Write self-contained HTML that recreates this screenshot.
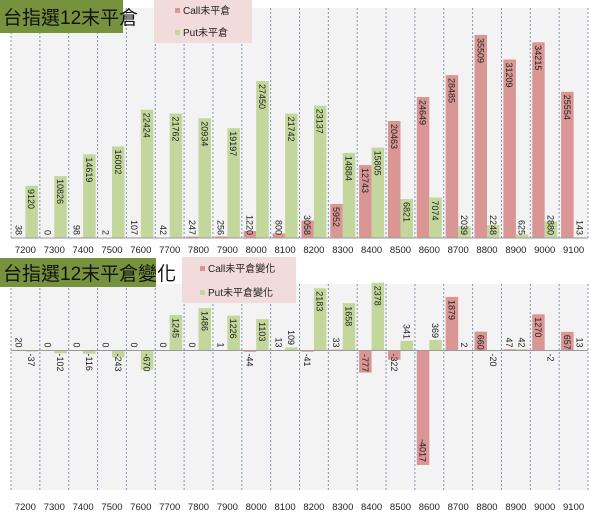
<!DOCTYPE html>
<html><head><meta charset="utf-8"><style>
html,body{margin:0;padding:0;background:#fff;}
svg{display:block;font-family:"Liberation Sans","Noto Sans CJK TC",sans-serif;}
.l{font-size:9px;fill:#222;}
.ax{font-size:9.5px;fill:#222;text-anchor:middle;}
</style></head><body>
<svg width="600" height="516" viewBox="0 0 600 516" xmlns="http://www.w3.org/2000/svg">
<rect x="0" y="0" width="600" height="516" fill="#fff"/>
<rect x="11" y="8" width="577" height="230" fill="#f3f3f3"/>
<rect x="11" y="284" width="577" height="206" fill="#f3f3f3"/>
<path d="M11 8V238M39.85 8V238M68.7 8V238M97.55 8V238M126.4 8V238M155.25 8V238M184.1 8V238M212.95 8V238M241.8 8V238M270.65 8V238M299.5 8V238M328.35 8V238M357.2 8V238M386.05 8V238M414.9 8V238M443.75 8V238M472.6 8V238M501.45 8V238M530.3 8V238M559.15 8V238M588 8V238
M11 284V490M39.85 284V490M68.7 284V490M97.55 284V490M126.4 284V490M155.25 284V490M184.1 284V490M212.95 284V490M241.8 284V490M270.65 284V490M299.5 284V490M328.35 284V490M357.2 284V490M386.05 284V490M414.9 284V490M443.75 284V490M472.6 284V490M501.45 284V490M530.3 284V490M559.15 284V490M588 284V490" stroke="#8094b0" stroke-width="1" stroke-dasharray="2,2" fill="none"/>

<!-- Chart 1 bars -->
<g fill="#da9694">
<rect x="12.9" y="237.8" width="12.5" height="0.2"/>
<rect x="70.6" y="237.4" width="12.5" height="0.6"/>
<rect x="128.3" y="237.4" width="12.5" height="0.6"/>
<rect x="157.2" y="237.8" width="12.5" height="0.2"/>
<rect x="186" y="236.6" width="12.5" height="1.4"/>
<rect x="214.9" y="236.5" width="12.5" height="1.5"/>
<rect x="243.7" y="231" width="12.5" height="7"/>
<rect x="272.6" y="233.4" width="12.5" height="4.6"/>
<rect x="301.4" y="220.5" width="12.5" height="17.5"/>
<rect x="330.3" y="204" width="12.5" height="34"/>
<rect x="359.1" y="165.1" width="12.5" height="72.9"/>
<rect x="388" y="121" width="12.5" height="117"/>
<rect x="416.8" y="97" width="12.5" height="141"/>
<rect x="445.7" y="75.1" width="12.5" height="162.9"/>
<rect x="474.5" y="34.9" width="12.5" height="203.1"/>
<rect x="503.4" y="59.5" width="12.5" height="178.5"/>
<rect x="532.2" y="42.3" width="12.5" height="195.7"/>
<rect x="561.1" y="91.8" width="12.5" height="146.2"/>
</g>
<g fill="#c3d69b">
<rect x="25.4" y="185.8" width="12.5" height="52.2"/>
<rect x="54.3" y="176.1" width="12.5" height="61.9"/>
<rect x="83.1" y="154.4" width="12.5" height="83.6"/>
<rect x="112" y="146.5" width="12.5" height="91.5"/>
<rect x="140.8" y="109.7" width="12.5" height="128.3"/>
<rect x="169.7" y="113.5" width="12.5" height="124.5"/>
<rect x="198.5" y="118.3" width="12.5" height="119.7"/>
<rect x="227.4" y="128.2" width="12.5" height="109.8"/>
<rect x="256.2" y="81" width="12.5" height="157"/>
<rect x="285.1" y="113.6" width="12.5" height="124.4"/>
<rect x="313.9" y="105.7" width="12.5" height="132.3"/>
<rect x="342.8" y="152.9" width="12.5" height="85.1"/>
<rect x="371.6" y="147.6" width="12.5" height="90.4"/>
<rect x="400.5" y="199" width="12.5" height="39"/>
<rect x="429.3" y="197.5" width="12.5" height="40.5"/>
<rect x="458.2" y="226.3" width="12.5" height="11.7"/>
<rect x="487" y="225.1" width="12.5" height="12.9"/>
<rect x="515.9" y="234.4" width="12.5" height="3.6"/>
<rect x="544.7" y="221.5" width="12.5" height="16.5"/>
<rect x="573.6" y="237.2" width="12.5" height="0.8"/>
</g>
<line x1="11" y1="238" x2="588" y2="238" stroke="#999" stroke-width="1"/>

<!-- Chart 1 labels: end-anchored near base -->
<g class="l" text-anchor="end">
<text transform="translate(15.7,235) rotate(90)">38</text>
<text transform="translate(44.6,235) rotate(90)">0</text>
<text transform="translate(73.4,235) rotate(90)">98</text>
<text transform="translate(102.3,235) rotate(90)">2</text>
<text transform="translate(131.1,235) rotate(90)">107</text>
<text transform="translate(160,235) rotate(90)">42</text>
<text transform="translate(188.8,235) rotate(90)">247</text>
<text transform="translate(217.7,235) rotate(90)">256</text>
<text transform="translate(246.5,235) rotate(90)">1220</text>
<text transform="translate(275.4,235) rotate(90)">800</text>
<text transform="translate(304.2,235) rotate(90)">3058</text>
<text transform="translate(461,235) rotate(90)">2039</text>
<text transform="translate(489.8,235) rotate(90)">2248</text>
<text transform="translate(518.7,235) rotate(90)">625</text>
<text transform="translate(547.5,235) rotate(90)">2880</text>
<text transform="translate(576.4,235) rotate(90)">143</text>
</g>
<g class="l">
<text transform="translate(333.1,207) rotate(90)">5952</text>
<text transform="translate(361.9,168) rotate(90)">12743</text>
<text transform="translate(390.8,124) rotate(90)">20463</text>
<text transform="translate(419.6,100) rotate(90)">24649</text>
<text transform="translate(448.5,78) rotate(90)">28485</text>
<text transform="translate(477.3,38) rotate(90)">35509</text>
<text transform="translate(506.2,62.5) rotate(90)">31209</text>
<text transform="translate(535,45.3) rotate(90)">34215</text>
<text transform="translate(563.9,94.8) rotate(90)">25554</text>
<text transform="translate(28.2,189) rotate(90)">9120</text>
<text transform="translate(57,179) rotate(90)">10826</text>
<text transform="translate(85.9,157.4) rotate(90)">14619</text>
<text transform="translate(114.8,149.5) rotate(90)">16002</text>
<text transform="translate(143.6,112.7) rotate(90)">22424</text>
<text transform="translate(172.5,116.5) rotate(90)">21762</text>
<text transform="translate(201.3,121.3) rotate(90)">20934</text>
<text transform="translate(230.2,131.2) rotate(90)">19197</text>
<text transform="translate(259,84) rotate(90)">27450</text>
<text transform="translate(287.9,116.6) rotate(90)">21742</text>
<text transform="translate(316.7,108.7) rotate(90)">23137</text>
<text transform="translate(345.6,155.9) rotate(90)">14884</text>
<text transform="translate(374.4,150.6) rotate(90)">15805</text>
<text transform="translate(403.3,202) rotate(90)">6821</text>
<text transform="translate(432,200.5) rotate(90)">7074</text>
</g>

<g class="ax">
<text x="25.4" y="253">7200</text><text x="54.3" y="253">7300</text><text x="83.1" y="253">7400</text><text x="112" y="253">7500</text><text x="140.8" y="253">7600</text><text x="169.7" y="253">7700</text><text x="198.5" y="253">7800</text><text x="227.4" y="253">7900</text><text x="256.2" y="253">8000</text><text x="285.1" y="253">8100</text><text x="313.9" y="253">8200</text><text x="342.8" y="253">8300</text><text x="371.6" y="253">8400</text><text x="400.5" y="253">8500</text><text x="429.3" y="253">8600</text><text x="458.2" y="253">8700</text><text x="487" y="253">8800</text><text x="515.9" y="253">8900</text><text x="544.7" y="253">9000</text><text x="573.6" y="253">9100</text>
<text x="25.4" y="510">7200</text><text x="54.3" y="510">7300</text><text x="83.1" y="510">7400</text><text x="112" y="510">7500</text><text x="140.8" y="510">7600</text><text x="169.7" y="510">7700</text><text x="198.5" y="510">7800</text><text x="227.4" y="510">7900</text><text x="256.2" y="510">8000</text><text x="285.1" y="510">8100</text><text x="313.9" y="510">8200</text><text x="342.8" y="510">8300</text><text x="371.6" y="510">8400</text><text x="400.5" y="510">8500</text><text x="429.3" y="510">8600</text><text x="458.2" y="510">8700</text><text x="487" y="510">8800</text><text x="515.9" y="510">8900</text><text x="544.7" y="510">9000</text><text x="573.6" y="510">9100</text>
</g>

<!-- Chart 2 bars (base 350.5) -->
<g fill="#da9694">
<rect x="12.9" y="349.9" width="12.5" height="0.6"/>
<rect x="243.7" y="350.5" width="12.5" height="1.3"/>
<rect x="272.6" y="350.1" width="12.5" height="0.4"/>
<rect x="301.4" y="350.5" width="12.5" height="1.2"/>
<rect x="330.3" y="349.6" width="12.5" height="0.9"/>
<rect x="359.1" y="350.5" width="12.5" height="22.1"/>
<rect x="388" y="350.5" width="12.5" height="9.2"/>
<rect x="416.8" y="350.5" width="12.5" height="114.5"/>
<rect x="445.7" y="296.9" width="12.5" height="53.6"/>
<rect x="474.5" y="331.7" width="12.5" height="18.8"/>
<rect x="503.4" y="349.3" width="12.5" height="1.2"/>
<rect x="532.2" y="314.3" width="12.5" height="36.2"/>
<rect x="561.1" y="331.8" width="12.5" height="18.7"/>
</g>
<g fill="#c3d69b">
<rect x="25.4" y="350.5" width="12.5" height="1.1"/>
<rect x="54.3" y="350.5" width="12.5" height="2.9"/>
<rect x="83.1" y="350.5" width="12.5" height="3.3"/>
<rect x="112" y="350.5" width="12.5" height="6.9"/>
<rect x="140.8" y="350.5" width="12.5" height="19.1"/>
<rect x="169.7" y="315" width="12.5" height="35.5"/>
<rect x="198.5" y="308.1" width="12.5" height="42.4"/>
<rect x="227.4" y="315.6" width="12.5" height="34.9"/>
<rect x="256.2" y="319.1" width="12.5" height="31.4"/>
<rect x="285.1" y="347.4" width="12.5" height="3.1"/>
<rect x="313.9" y="288.3" width="12.5" height="62.2"/>
<rect x="342.8" y="303.2" width="12.5" height="47.3"/>
<rect x="371.6" y="282.7" width="12.5" height="67.8"/>
<rect x="400.5" y="340.8" width="12.5" height="9.7"/>
<rect x="429.3" y="340" width="12.5" height="10.5"/>
<rect x="487" y="350.5" width="12.5" height="0.6"/>
<rect x="515.9" y="349.2" width="12.5" height="1.3"/>
<rect x="573.6" y="350.1" width="12.5" height="0.4"/>
</g>
<line x1="11" y1="350.5" x2="588" y2="350.5" stroke="#999" stroke-width="1"/>

<g class="l" text-anchor="end">
<text transform="translate(15.7,347.5) rotate(90)">20</text>
<text transform="translate(44.6,347.5) rotate(90)">0</text>
<text transform="translate(73.4,347.5) rotate(90)">0</text>
<text transform="translate(102.3,347.5) rotate(90)">0</text>
<text transform="translate(131.1,347.5) rotate(90)">0</text>
<text transform="translate(160,347.5) rotate(90)">0</text>
<text transform="translate(188.8,347.5) rotate(90)">0</text>
<text transform="translate(217.7,347.5) rotate(90)">1</text>
<text transform="translate(275.4,347.5) rotate(90)">13</text>
<text transform="translate(333.1,347.5) rotate(90)">33</text>
<text transform="translate(419.6,462) rotate(90)">-4017</text>
<text transform="translate(506.2,347.5) rotate(90)">47</text>
<text transform="translate(287.9,345) rotate(90)">109</text>
<text transform="translate(403.3,339) rotate(90)">341</text>
<text transform="translate(432,338) rotate(90)">369</text>
<text transform="translate(461,347.5) rotate(90)">2</text>
<text transform="translate(518.7,347.5) rotate(90)">42</text>
<text transform="translate(576.4,347.5) rotate(90)">13</text>
</g>
<g class="l">
<text transform="translate(246.5,353.5) rotate(90)">-44</text>
<text transform="translate(304.2,353.5) rotate(90)">-41</text>
<text transform="translate(361.9,354) rotate(90)">-777</text>
<text transform="translate(390.8,353.5) rotate(90)">-322</text>
<text transform="translate(448.5,300) rotate(90)">1879</text>
<text transform="translate(477.3,334.7) rotate(90)">660</text>
<text transform="translate(535,317.3) rotate(90)">1270</text>
<text transform="translate(563.9,334.8) rotate(90)">657</text>
<text transform="translate(28.2,353.5) rotate(90)">-37</text>
<text transform="translate(57,353.5) rotate(90)">-102</text>
<text transform="translate(85.9,353.5) rotate(90)">-116</text>
<text transform="translate(114.8,353.5) rotate(90)">-243</text>
<text transform="translate(143.6,353.5) rotate(90)">-670</text>
<text transform="translate(172.5,318) rotate(90)">1245</text>
<text transform="translate(201.3,311) rotate(90)">1486</text>
<text transform="translate(230.2,318.6) rotate(90)">1226</text>
<text transform="translate(259,322) rotate(90)">1103</text>
<text transform="translate(316.7,291.3) rotate(90)">2183</text>
<text transform="translate(345.6,306.2) rotate(90)">1658</text>
<text transform="translate(374.4,285.7) rotate(90)">2378</text>
<text transform="translate(489.8,353.5) rotate(90)">-20</text>
<text transform="translate(547.5,353.5) rotate(90)">-2</text>
</g>

<!-- Titles and legends -->
<rect x="0" y="0" width="123" height="33" fill="#76923c"/>
<text x="3" y="24" font-size="19" fill="#111">台指選12末平倉</text>
<rect x="154" y="0" width="98" height="43" fill="#f2dcdb"/>
<rect x="175" y="8" width="5" height="5" fill="#da9694"/>
<text x="183" y="14" font-size="10" fill="#222">Call未平倉</text>
<rect x="175" y="30" width="5" height="5" fill="#c3d69b"/>
<text x="183" y="36" font-size="10" fill="#222">Put未平倉</text>

<rect x="0" y="258" width="156" height="29" fill="#76923c"/>
<text x="3" y="280" font-size="19" fill="#111">台指選12末平倉變化</text>
<rect x="182" y="257" width="114" height="46" fill="#f2dcdb"/>
<rect x="200" y="266" width="5" height="5" fill="#da9694"/>
<text x="208" y="272" font-size="10" fill="#222">Call未平倉變化</text>
<rect x="200" y="290" width="5" height="5" fill="#c3d69b"/>
<text x="208" y="296" font-size="10" fill="#222">Put未平倉變化</text>
</svg>
</body></html>
